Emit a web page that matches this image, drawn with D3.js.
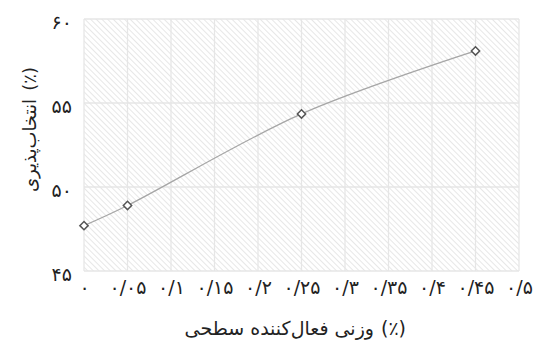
<!DOCTYPE html>
<html>
<head>
<meta charset="utf-8">
<script src="https://cdn.jsdelivr.net/npm/d3@7"></script>
<style>
body { margin: 0; background: #fff; }
svg text { font-family: "DejaVu Sans", sans-serif; fill: #222; }
</style>
</head>
<body>
<svg id="chart" width="538" height="342"></svg>
<script>
var xValues = [0, 0.05, 0.25, 0.45];
var yValues = [47.7, 48.9, 54.35, 58.1];
var xTicks = [0, 0.05, 0.1, 0.15, 0.2, 0.25, 0.3, 0.35, 0.4, 0.45, 0.5];
var xTickLabels = ["۰", "۰/۰۵", "۰/۱", "۰/۱۵", "۰/۲", "۰/۲۵", "۰/۳", "۰/۳۵", "۰/۴", "۰/۴۵", "۰/۵"];
var yTicks = [45, 50, 55, 60];
var yTickLabels = ["۴۵", "۵۰", "۵۵", "۶۰"];
var unitLabel = "(٪)";
var xTitle = "وزنی فعال‌کننده سطحی";
var yTitle = "انتخاب‌پذیری";

var svg = d3.select("#chart");
var margin = {left: 84, right: 19, top: 19, bottom: 71};
var w = 538 - margin.left - margin.right,
    h = 342 - margin.top - margin.bottom;

var x = d3.scaleLinear().domain([0, 0.5]).range([0, w]);
var y = d3.scaleLinear().domain([45, 60]).range([h, 0]);

// hatch pattern for plot background
var pat = svg.append("defs").append("pattern")
    .attr("id", "hatch")
    .attr("patternUnits", "userSpaceOnUse")
    .attr("width", 4).attr("height", 4)
    .attr("patternTransform", "rotate(-45)");
pat.append("line")
    .attr("x1", 0).attr("y1", 0).attr("x2", 0).attr("y2", 4)
    .style("stroke", "#d6d6d6").style("stroke-width", 1.2);

var g = svg.append("g").attr("transform", "translate(" + margin.left + "," + margin.top + ")");

g.append("rect").attr("width", w).attr("height", h).style("fill", "url(#hatch)");

// grid
g.selectAll("line.vg").data(xTicks).enter().append("line")
    .attr("class", "vg")
    .attr("x1", function(d) { return x(d); }).attr("x2", function(d) { return x(d); })
    .attr("y1", 0).attr("y2", h)
    .style("stroke", "#e6e6e6").style("stroke-width", 1.3);
g.selectAll("line.hg").data(yTicks).enter().append("line")
    .attr("class", "hg")
    .attr("x1", 0).attr("x2", w)
    .attr("y1", function(d) { return y(d); }).attr("y2", function(d) { return y(d); })
    .style("stroke", "#e6e6e6").style("stroke-width", 1.3);

// axes (labels only)
var xAxis = d3.axisBottom(x).tickValues(xTicks)
    .tickFormat(function(d, i) { return xTickLabels[i]; }).tickSize(0).tickPadding(10);
var gx = g.append("g").attr("transform", "translate(0," + h + ")").call(xAxis);
gx.select(".domain").remove();
gx.selectAll("text").style("font-size", "19px").style("fill", "#222");

var yAxis = d3.axisLeft(y).tickValues(yTicks)
    .tickFormat(function(d, i) { return yTickLabels[i]; }).tickSize(0).tickPadding(12);
var gy = g.append("g").call(yAxis);
gy.select(".domain").remove();
gy.selectAll("text").style("font-size", "19px").style("fill", "#222").attr("dy", "0.5em");

// line
var data = xValues.map(function(d, i) { return {x: d, y: yValues[i]}; });
var line = d3.line()
    .x(function(d) { return x(d.x); })
    .y(function(d) { return y(d.y); })
    .curve(d3.curveCatmullRom.alpha(0.5));
g.append("path").datum(data).attr("d", line)
    .style("fill", "none").style("stroke", "#a6a6a6").style("stroke-width", 1.3);

g.selectAll("path.pt").data(data).enter().append("path")
    .attr("class", "pt")
    .attr("d", d3.symbol().type(d3.symbolDiamond2).size(44))
    .attr("transform", function(d) { return "translate(" + x(d.x) + "," + y(d.y) + ")"; })
    .style("fill", "#fff").style("stroke", "#555").style("stroke-width", 1.5);

// titles: unit in its own element so its side is fixed
var xt = svg.append("g").attr("transform", "translate(300,335)");
xt.append("text").attr("x", 74).attr("text-anchor", "end")
    .style("font-size", "19px").text(xTitle);
xt.append("text").attr("x", 81).attr("text-anchor", "start")
    .style("font-size", "19px").text(unitLabel);

var yt = svg.append("g").attr("transform", "translate(36,139) rotate(-90)");
yt.append("text").attr("x", 72).attr("text-anchor", "end")
    .style("font-size", "18px").text(unitLabel);
yt.append("text").attr("x", 40).attr("text-anchor", "end")
    .style("font-size", "18px").text(yTitle);
</script>
</body>
</html>
